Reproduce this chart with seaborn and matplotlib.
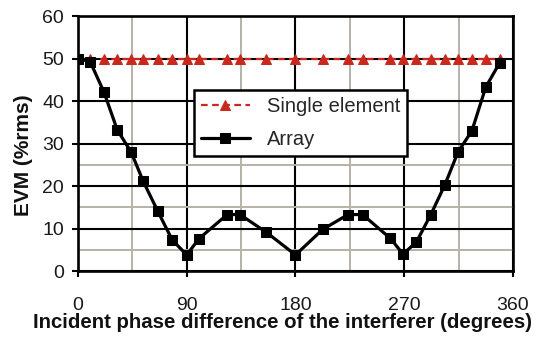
import matplotlib
matplotlib.use("Agg")
import matplotlib.pyplot as plt
import seaborn as sns
import pandas as pd
from matplotlib.ticker import FixedLocator

phase = [0, 10, 21.5, 32.5, 44, 54, 66, 78, 90, 100, 123.5, 134, 156,
         180, 202.5, 223.5, 235.5, 258.5, 269, 280, 292, 303.5, 314.5, 326, 337.5, 349]
array_evm = [50, 49.3, 42.1, 33.2, 28, 21.1, 14.1, 7.3, 3.8, 7.6, 13.3, 13.3, 9.1,
             3.8, 9.8, 13.3, 13.3, 7.7, 4.0, 6.8, 13.3, 20.2, 28, 33, 43.3, 49]
single_evm = [50] * len(phase)

x_ticks = [0, 90, 180, 270, 360]
y_ticks = [0, 10, 20, 30, 40, 50, 60]

df_single = pd.DataFrame({"phase": phase, "evm": single_evm})
df_array = pd.DataFrame({"phase": phase, "evm": array_evm})

sns.set_theme(style="white")
plt.rcParams["font.family"] = ["Liberation Sans", "DejaVu Sans"]

fig = plt.figure(figsize=(5.38, 3.38), dpi=100)
ax = fig.add_axes([0.145, 0.198, 0.8085, 0.7545])

red = "#c8281e"
sns.lineplot(data=df_single, x="phase", y="evm", ax=ax, color=red,
             linestyle=(0, (3, 2)), linewidth=1.6, marker="^", markersize=7,
             markeredgecolor=red, markerfacecolor=red, label="Single element", zorder=3)
sns.lineplot(data=df_array, x="phase", y="evm", ax=ax, color="black",
             linewidth=2.3, marker="s", markersize=7.5,
             markeredgecolor="black", markerfacecolor="black", label="Array", zorder=4)

ax.set_xlim(0, 360)
ax.set_ylim(0, 60)
ax.xaxis.set_major_locator(FixedLocator(x_ticks))
ax.yaxis.set_major_locator(FixedLocator(y_ticks))
ax.xaxis.set_minor_locator(FixedLocator([45, 135, 225, 315]))
ax.yaxis.set_minor_locator(FixedLocator([5, 15, 25]))
ax.grid(which="major", color="black", linewidth=1.5, zorder=1)
ax.grid(which="minor", color="#b8b2a8", linewidth=1.4, zorder=0.5)
ax.set_axisbelow(True)
ax.tick_params(axis="both", which="major", direction="out", length=4.5, width=1.5,
               color="black", labelsize=14, labelcolor="#1a1a1a", bottom=True, left=True)
ax.tick_params(axis="x", which="major", pad=14.5)
ax.tick_params(axis="y", which="major", pad=5.5)
ax.tick_params(which="minor", length=0)
for s in ax.spines.values():
    s.set_color("black")
    s.set_linewidth(1.9)

ax.set_xlabel("Incident phase difference of the interferer (degrees)",
              fontsize=14.7, fontweight="bold", color="#111111")
ax.xaxis.set_label_coords(0.469, -0.165)
ax.set_ylabel("EVM (%rms)", fontsize=15, fontweight="bold", color="#111111")
ax.yaxis.set_label_coords(-0.103, 0.455)

leg = ax.legend(loc="upper left", bbox_to_anchor=(0.267, 0.712), fontsize=14.5,
                frameon=True, fancybox=False, edgecolor="black", framealpha=1,
                handlelength=2.4, handletextpad=0.85, borderpad=0.35, labelspacing=0.7,
                borderaxespad=0)
leg.get_frame().set_linewidth(1.8)

fig.savefig("out.png", dpi=100)
